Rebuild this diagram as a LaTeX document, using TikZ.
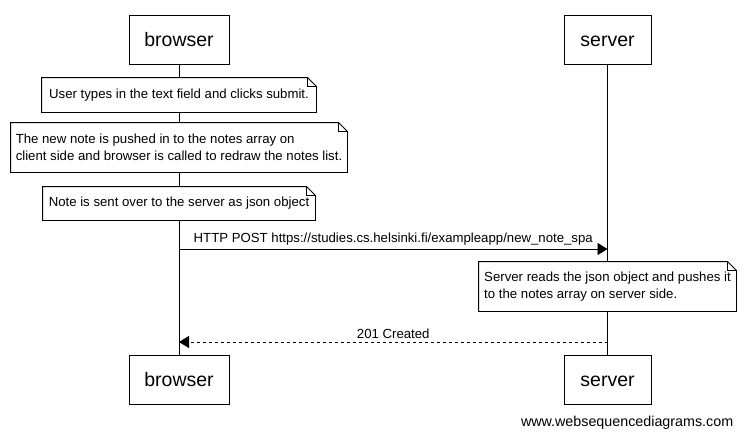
\documentclass[tikz,border=0pt]{standalone}
\usepackage{fontspec}
\setmainfont{Liberation Sans}
\usetikzlibrary{arrows.meta}

\tikzset{
  every path/.style={line width=0.9pt},
  actor/.style={draw, fill=white, minimum height=49pt, inner sep=0pt, text height=17pt, text depth=4pt, font=\fontsize{19.5}{22}\selectfont},
  notebox/.style={fill=white, inner sep=0pt, align=left, font=\fontsize{13.2}{17}\selectfont},
  msg/.style={-{Triangle[length=10pt,width=12pt]}},
  msgtext/.style={font=\fontsize{13.2}{15}\selectfont}
}
% folded note outline round a named node
\newcommand{\dogear}[1]{%
  \draw (#1.north west) -- ([xshift=-9pt]#1.north east) -- ([yshift=-9pt]#1.north east)
    -- (#1.south east) -- (#1.south west) -- cycle;
  \draw ([xshift=-9pt]#1.north east) |- ([yshift=-9pt]#1.north east);
}

\begin{document}
\begin{tikzpicture}[x=1pt, y=-1pt]
  \useasboundingbox[fill=white] (0,0) rectangle (745,439);

  % Participants
  \node[actor, minimum width=100pt] (browserTop) at (179,39.5) {browser};
  \node[actor, minimum width=87pt]  (serverTop)  at (607.5,39.5) {server};
  \node[actor, minimum width=100pt] (browserBot) at (179,379.5) {browser};
  \node[actor, minimum width=87pt]  (serverBot)  at (607.5,379.5) {server};

  % Lifelines
  \draw (browserTop.south) -- (browserBot.north);
  \draw (serverTop.south) -- (serverBot.north);

  % Notes on the browser side
  \node[notebox, minimum width=274pt, minimum height=34pt] (typeNote) at (179,95)
    {User types in the text field and clicks submit.};
  \dogear{typeNote}
  \node[notebox, minimum width=336pt, minimum height=49pt] (pushNote) at (179,147.5)
    {The new note is pushed in to the notes array on\\client side and browser is called to redraw the notes list.};
  \dogear{pushNote}
  \node[notebox, minimum width=272pt, minimum height=33pt] (sendNote) at (179,203.5)
    {Note is sent over to the server as json object};
  \dogear{sendNote}

  % Request
  \coordinate (postStart) at (179,249);
  \coordinate (postEnd) at (607.5,249);
  \draw[msg] (postStart) -- (postEnd)
    node[msgtext, midway, above=0pt] {HTTP POST https://studies.cs.helsinki.fi/exampleapp/new\_note\_spa};

  % Note on the server side
  \node[notebox, minimum width=257pt, minimum height=49pt] (serverNote) at (607.5,286.5)
    {Server reads the json object and pushes it\\to the notes array on server side.};
  \dogear{serverNote}

  % Response
  \coordinate (respStart) at (607.5,342);
  \coordinate (respEnd) at (179,342);
  \draw[msg, dashed] (respStart) -- (respEnd)
    node[msgtext, midway, above=0pt] {201 Created};

  \node[font=\fontsize{14.3}{16}\selectfont, anchor=east] (footer) at (737,423) {www.websequencediagrams.com};
\end{tikzpicture}
\end{document}
